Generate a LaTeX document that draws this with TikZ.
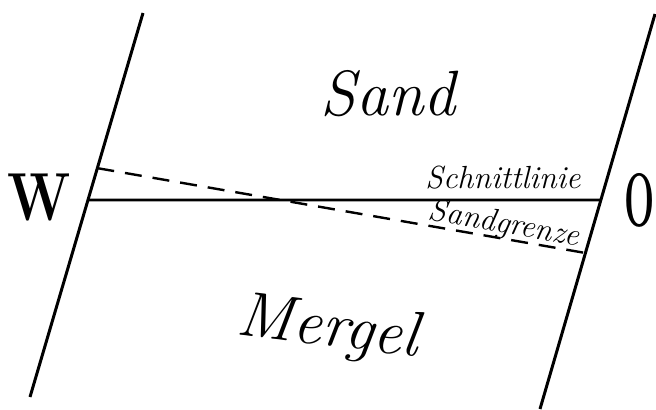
\documentclass[tikz,border=0pt]{standalone}
\usepackage{tikz}
\usetikzlibrary{calc}

\begin{document}
\begin{tikzpicture}[
  x=0.5pt, y=-0.5pt,
  fault/.style={line width=1.5pt},
  cut/.style={line width=1.4pt},
  bound/.style={line width=1.2pt,dash pattern=on 8.5pt off 5.5pt},
  side/.style={font=\fontsize{34}{34}\selectfont\bfseries,inner sep=0pt},
  soil/.style={font=\fontsize{32}{32}\selectfont\itshape},
  tag/.style={font=\fontsize{16}{16}\selectfont\itshape,inner sep=0pt},
]

\useasboundingbox (0,0) rectangle (656,409);

%% ── Slanted boundary lines ─────────────────────────────────────────────
\coordinate (wtop) at (143,13);
\coordinate (wbot) at (30,397);
\coordinate (otop) at (655,14);
\coordinate (obot) at (540,409);
\draw[fault] (wtop) -- (wbot);
\draw[fault] (otop) -- (obot);

%% ── Section line and sand boundary ────────────────────────────────────
\coordinate (cutw) at ($(wtop)!0.487!(wbot)$);
\coordinate (cuto) at ($(otop)!0.471!(obot)$);
\coordinate (sandw) at ($(wtop)!0.404!(wbot)$);
\coordinate (sando) at ($(otop)!0.605!(obot)$);
\draw[cut] (cutw) -- (cuto);
\draw[bound] (sandw) -- (sando);

%% ── Labels ──────────────────────────────────────────────────────────────
\node[side,xscale=0.8] (west) at (39,197) {W};
\node[side,font=\fontsize{38}{38}\selectfont\bfseries,xscale=0.47] (east) at (640,200) {O};
\node[soil,anchor=base] (sand) at (388,115) {Sand};
\node[soil,rotate=-7] (mergel) at (328,330) {Mergel};
\node[tag,anchor=base] (schnitt) at (503,188) {Schnittlinie};
\node[tag,anchor=base,rotate=-10] (grenze) at (503,233) {Sandgrenze};

\end{tikzpicture}
\end{document}
